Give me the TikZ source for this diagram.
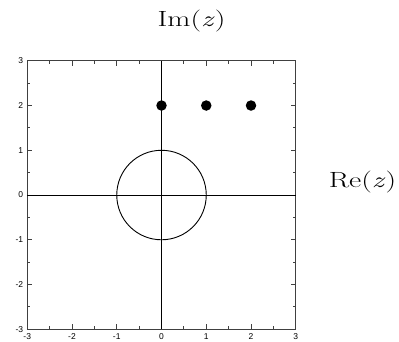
\documentclass[tikz,border=0pt]{standalone}
\usepackage{fontspec}
\newfontfamily\ticksfont{Liberation Sans}
\usetikzlibrary{positioning}

\begin{document}
\begin{tikzpicture}[x=44.75pt, y=44.75pt, line width=0.9pt, every node/.style={inner sep=1pt}, ticklabel/.style={font=\ticksfont\fontsize{8.5}{9}\selectfont}, axislabel/.style={font=\fontsize{22}{26}\selectfont, xscale=1.36, transform shape}, pole/.style={circle,fill=black,minimum size=10.5pt,inner sep=0pt}]
\useasboundingbox (-3.609,-3.263) rectangle (5.307,4.358);
% frame with ticks
\draw[black!75] (-3,-3) rectangle (3,3);
\foreach \t in {-3,-2,...,3} {
  \draw[black!75] (\t,-3) -- ++(0,0.11) (\t,3) -- ++(0,-0.11);
  \draw[black!75] (-3,\t) -- ++(0.11,0) (3,\t) -- ++(-0.11,0);
  \node[ticklabel, anchor=north] at (\t,-3.06) {\t};
  \node[ticklabel, anchor=east] at (-3.06,\t) {\t};
}
\foreach \t in {-2.5,-1.5,...,2.5} {
  \draw[black!75] (\t,-3) -- ++(0,0.07) (\t,3) -- ++(0,-0.07);
  \draw[black!75] (-3,\t) -- ++(0.07,0) (3,\t) -- ++(-0.07,0);
}
% axes
\coordinate (west) at (-3,0);
\coordinate (east) at (3,0);
\coordinate (south) at (0,-3);
\coordinate (north) at (0,3);
\draw (west) -- (east);
\draw (south) -- (north);
\draw (0,0) circle (1);
% poles
\node[pole] (p0) at (0,2) {};
\node[pole] (p1) at (1,2) {};
\node[pole] (p2) at (2,2) {};
% labels
\node[axislabel] (im) at (0.67,3.88) {Im(\textit{z})};
\node[axislabel] (re) at (4.49,0.29) {Re(\textit{z})};
\end{tikzpicture}
\end{document}
